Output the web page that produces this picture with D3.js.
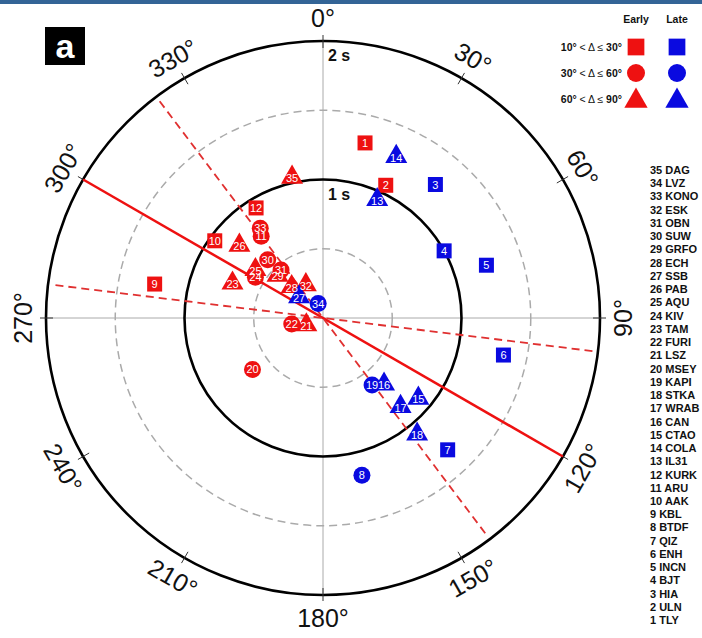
<!DOCTYPE html>
<html>
<head>
<meta charset="utf-8">
<script src="https://cdn.jsdelivr.net/npm/d3@7"></script>
<style>
    body { margin: 0; background: #fff; }
    svg { display: block; }
</style>
</head>
<body>
<svg id="canvas" width="702" height="638"></svg>
<script>
(function () {

    // Station data, one entry per station number (1 = TLY ... 35 = DAG).
    const stationCodes = ["TLY", "ULN", "HIA", "BJT", "INCN", "ENH", "QIZ", "BTDF", "KBL", "AAK",
        "ARU", "KURK", "IL31", "COLA", "CTAO", "CAN", "WRAB", "STKA", "KAPI", "MSEY",
        "LSZ", "FURI", "TAM", "KIV", "AQU", "PAB", "SSB", "ECH", "GRFO", "SUW",
        "OBN", "ESK", "KONO", "LVZ", "DAG"];
    // Back azimuth (degrees) and delay time (s) of each measurement.
    const backAzimuths = [13.5, 25.3, 40.1, 61.0, 72.1, 101.6, 136.6, 166.1, 281.4, 305.5,
        322.9, 328.7, 24.6, 24.4, 130.1, 137.3, 138.8, 141.0, 143.8, 233.9,
        247.6, 259.0, 291.0, 301.1, 305.6, 311.0, 311.2, 315.0, 313.1, 316.5,
        318.8, 332.7, 325.0, 341.6, 347.6];
    const delayTimes = [1.30, 1.06, 1.26, 1.00, 1.24, 1.33, 1.31, 1.17, 1.24, 0.96,
        0.74, 0.93, 0.94, 1.28, 0.90, 0.65, 0.85, 1.08, 0.60, 0.63,
        0.13, 0.23, 0.70, 0.57, 0.60, 0.80, 0.23, 0.32, 0.45, 0.58,
        0.46, 0.27, 0.79, 0.11, 1.04];
    // Epicentral distance class: 0 = 10-30, 1 = 30-60, 2 = 60-90 degrees.
    const distanceClass = [0, 0, 0, 0, 0, 0, 0, 1, 0, 0,
        1, 0, 2, 2, 2, 2, 2, 2, 1, 1,
        2, 1, 2, 1, 2, 2, 2, 2, 2, 1,
        1, 2, 1, 1, 2];
    const phases = ["Early", "Early", "Late", "Late", "Late", "Late", "Late", "Late", "Early", "Early",
        "Early", "Early", "Late", "Late", "Late", "Late", "Late", "Late", "Late", "Early",
        "Early", "Early", "Early", "Early", "Early", "Early", "Late", "Early", "Early", "Early",
        "Early", "Early", "Early", "Late", "Early"];

    // Legend and axis values.
    const phaseNames = ["Early", "Late"];
    const rangeBounds = [["10°", "30°"], ["30°", "60°"], ["60°", "90°"]];
    const angleTicks = [0, 30, 60, 90, 120, 150, 180, 210, 240, 270, 300, 330];
    const ringValues = [0.5, 1, 1.5, 2];
    const ringLabels = [1, 2];
    const solidAzimuths = [300];
    const dashedAzimuths = [323, 97];

    // Layout.
    const CX = 323;
    const CY = 318;
    const RADIUS = 277;
    const RED = "#ee1111";
    const BLUE = "#0a0ae0";
    const phaseColor = { Early: RED, Late: BLUE };
    const symbolTypes = [d3.symbolSquare, d3.symbolCircle, d3.symbolTriangle];
    const symbolSizes = [225, 227, 210];
    const legendSizes = [280, 255, 235];

    let svg = d3.select("#canvas");
    let r = d3.scaleLinear().domain([0, 2]).range([0, RADIUS]);
    let toRad = d => d * Math.PI / 180;

    // Top border band.
    svg.append("rect")
        .attr("x", 0).attr("y", 0)
        .attr("width", 702).attr("height", 4)
        .attr("fill", "#336496");

    let plot = svg.append("g")
        .attr("transform", `translate(${CX}, ${CY})`);

    // Cross hairs through the centre.
    [0, 90].forEach(a => {
        let p1 = d3.pointRadial(toRad(a), r(2));
        let p2 = d3.pointRadial(toRad(a + 180), r(2));
        plot.append("line")
            .attr("x1", p1[0]).attr("y1", p1[1])
            .attr("x2", p2[0]).attr("y2", p2[1])
            .attr("stroke", "#aaa")
            .attr("stroke-width", 1);
    });

    // Rings: dashed grey at half seconds, solid black at whole seconds.
    plot.selectAll("circle.ring")
        .data(ringValues)
        .join("circle")
        .attr("class", "ring")
        .attr("r", d => r(d))
        .attr("fill", "none")
        .attr("stroke", d => d % 1 === 0 ? "#000" : "#aaa")
        .attr("stroke-width", d => d % 1 === 0 ? 2.6 : 1.5)
        .attr("stroke-dasharray", d => d % 1 === 0 ? null : "8,5");

    // Tick marks and azimuth labels round the outer ring.
    plot.selectAll("line.tick")
        .data(angleTicks)
        .join("line")
        .attr("class", "tick")
        .attr("x1", d => d3.pointRadial(toRad(d), r(2) - 7)[0])
        .attr("y1", d => d3.pointRadial(toRad(d), r(2) - 7)[1])
        .attr("x2", d => d3.pointRadial(toRad(d), r(2) + 6)[0])
        .attr("y2", d => d3.pointRadial(toRad(d), r(2) + 6)[1])
        .attr("stroke", "#333")
        .attr("stroke-width", 1);

    plot.selectAll("text.azimuth")
        .data(angleTicks)
        .join("text")
        .attr("class", "azimuth")
        .attr("transform", d => {
            let p = d3.pointRadial(toRad(d), r(2) + 23);
            let rot = (d >= 90 && d < 270) ? d - 180 : d;
            return `translate(${p[0]}, ${p[1]}) rotate(${rot})`;
        })
        .attr("text-anchor", "middle")
        .attr("dominant-baseline", "central")
        .attr("font-family", "Liberation Sans, Arial, sans-serif")
        .attr("font-size", 25)
        .attr("fill", "#111")
        .text(d => `${d}°`);

    // Ring labels.
    plot.selectAll("text.ring-label")
        .data(ringLabels)
        .join("text")
        .attr("class", "ring-label")
        .attr("x", 5)
        .attr("y", d => -r(d) + 20)
        .attr("font-family", "Liberation Sans, Arial, sans-serif")
        .attr("font-weight", "bold")
        .attr("font-size", 16)
        .attr("fill", "#111")
        .text(d => `${d} s`);

    // Fast axis directions.
    solidAzimuths.forEach(a => {
        let p1 = d3.pointRadial(toRad(a), r(2));
        let p2 = d3.pointRadial(toRad(a + 180), r(2));
        plot.append("line")
            .attr("x1", p1[0]).attr("y1", p1[1])
            .attr("x2", p2[0]).attr("y2", p2[1])
            .attr("stroke", RED)
            .attr("stroke-width", 2.5);
    });
    dashedAzimuths.forEach(a => {
        let p1 = d3.pointRadial(toRad(a), r(1.96));
        let p2 = d3.pointRadial(toRad(a + 180), r(1.96));
        plot.append("line")
            .attr("x1", p1[0]).attr("y1", p1[1])
            .attr("x2", p2[0]).attr("y2", p2[1])
            .attr("stroke", "#e03030")
            .attr("stroke-width", 1.8)
            .attr("stroke-dasharray", "8,5");
    });

    // Measurements: early ones first so late ones sit on top.
    let stations = stationCodes.map((code, i) => ({
        id: i + 1,
        code: code,
        az: backAzimuths[i],
        dt: delayTimes[i],
        cls: distanceClass[i],
        phase: phases[i]
    }));
    let ordered = stations.filter(s => s.phase === "Early")
        .concat(stations.filter(s => s.phase === "Late"));
    let pos = s => d3.pointRadial(toRad(s.az), r(s.dt));

    plot.selectAll("path.mark")
        .data(ordered)
        .join("path")
        .attr("class", "mark")
        .attr("transform", s => `translate(${pos(s)[0]}, ${pos(s)[1]})`)
        .attr("d", s => d3.symbol(symbolTypes[s.cls], symbolSizes[s.cls])())
        .attr("fill", s => phaseColor[s.phase]);

    plot.selectAll("text.mark-label")
        .data(ordered)
        .join("text")
        .attr("class", "mark-label")
        .attr("x", s => pos(s)[0])
        .attr("y", s => pos(s)[1] + (s.cls === 2 ? 1 : 0))
        .attr("text-anchor", "middle")
        .attr("dominant-baseline", "central")
        .attr("font-family", "Liberation Sans, Arial, sans-serif")
        .attr("font-size", 11)
        .attr("fill", "#fff")
        .text(s => s.id);

    // Panel letter.
    svg.append("rect")
        .attr("x", 45).attr("y", 27)
        .attr("width", 40).attr("height", 38)
        .attr("fill", "#000");
    svg.append("text")
        .attr("x", 65).attr("y", 58)
        .attr("text-anchor", "middle")
        .attr("font-family", "Liberation Sans, Arial, sans-serif")
        .attr("font-weight", "bold")
        .attr("font-size", 34)
        .attr("fill", "#fff")
        .text("a");

    // Legend.
    let legendX = [636, 677];
    let legendY = [47, 73, 99];
    let legend = svg.append("g")
        .attr("font-family", "Liberation Sans, Arial, sans-serif")
        .attr("fill", "#111");
    legend.selectAll("text.head")
        .data(phaseNames)
        .join("text")
        .attr("class", "head")
        .attr("x", (d, i) => legendX[i])
        .attr("y", 23)
        .attr("text-anchor", "middle")
        .attr("font-weight", "bold")
        .attr("font-size", 10.5)
        .text(d => d);

    rangeBounds.forEach((b, k) => {
        let label = legend.append("text")
            .attr("x", 622)
            .attr("y", legendY[k])
            .attr("text-anchor", "end")
            .attr("dominant-baseline", "central")
            .attr("font-size", 10.5);
        label.append("tspan").attr("font-weight", "bold").text(b[0]);
        label.append("tspan").text(" < Δ ≤ ");
        label.append("tspan").attr("font-weight", "bold").text(b[1]);

        phaseNames.forEach((p, i) => {
            legend.append("path")
                .attr("transform", `translate(${legendX[i]}, ${legendY[k] + (k === 2 ? 2 : 0)})`)
                .attr("d", d3.symbol(symbolTypes[k], legendSizes[k])())
                .attr("fill", phaseColor[p]);
        });
    });

    // Station list, highest number at the top.
    let listTop = 170;
    let listStep = 13.24;
    svg.append("g")
        .selectAll("text")
        .data(stations.slice().reverse())
        .join("text")
        .attr("x", 650)
        .attr("y", (s, i) => listTop + i * listStep)
        .attr("dominant-baseline", "central")
        .attr("font-family", "Liberation Sans Narrow, Arial Narrow, sans-serif")
        .attr("font-weight", "bold")
        .attr("font-size", 11)
        .attr("fill", "#111")
        .text(s => `${s.id} ${s.code}`);

})();
</script>
</body>
</html>
